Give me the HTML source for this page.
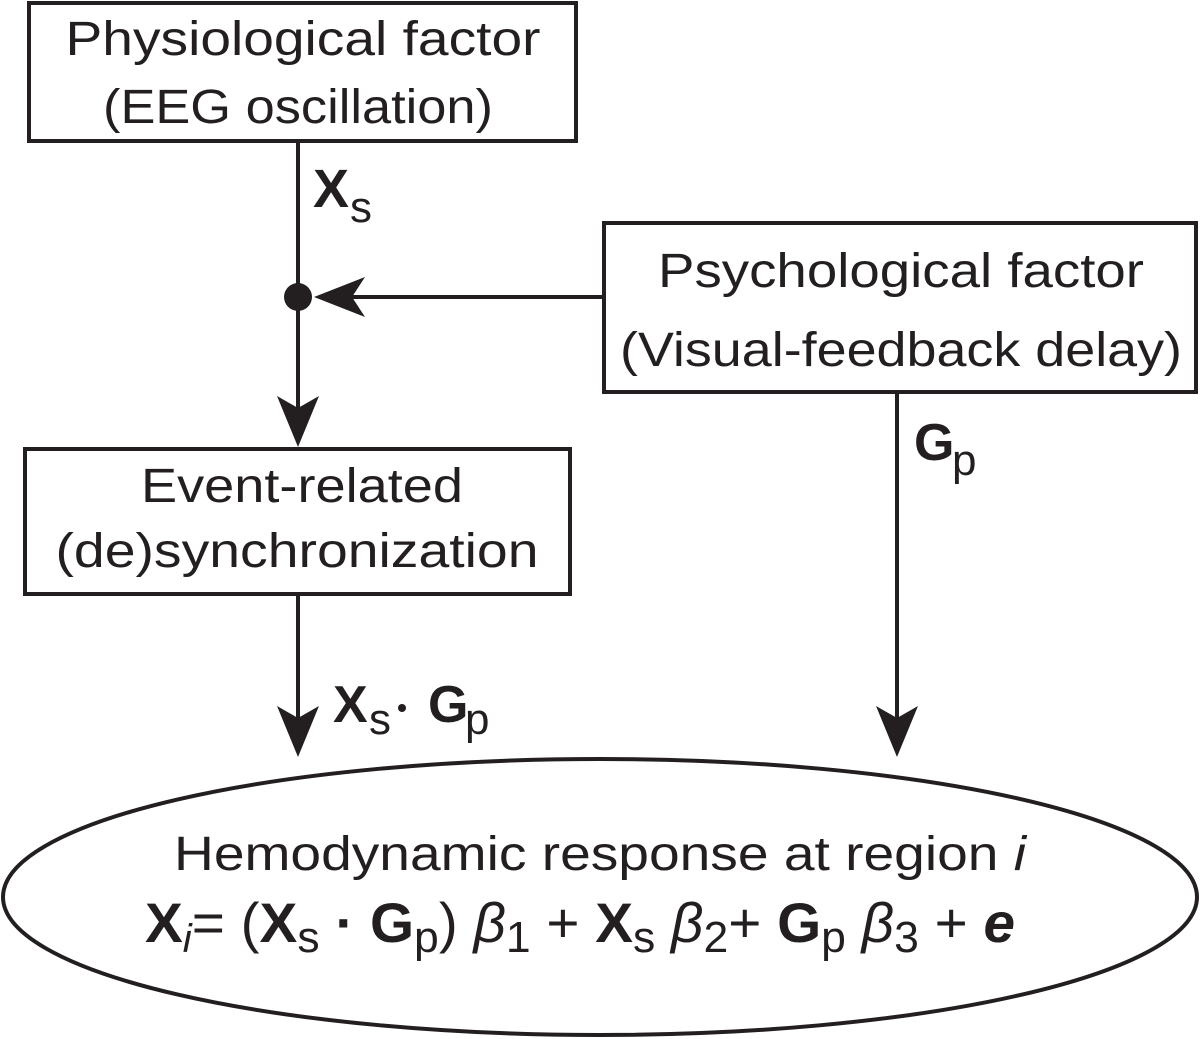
<!DOCTYPE html>
<html><head><meta charset="utf-8"><style>html,body{margin:0;padding:0;background:#fff}svg{display:block}text{font-family:"Liberation Sans",sans-serif;fill:#231f20}</style></head>
<body>
<svg width="1200" height="1039" viewBox="0 0 1200 1039" xmlns="http://www.w3.org/2000/svg">
<g stroke="#231f20" stroke-width="4" fill="none">
<rect x="29" y="3" width="547" height="138"/>
<rect x="604" y="223" width="592" height="169"/>
<rect x="25" y="449" width="545" height="145"/>
<ellipse cx="600" cy="897" rx="597" ry="138"/>
<line x1="298" y1="141" x2="298" y2="410"/>
<line x1="604" y1="297" x2="350" y2="297"/>
<line x1="298" y1="594" x2="298" y2="720"/>
<line x1="897" y1="392" x2="897" y2="720"/>
</g>
<g fill="#231f20">
<circle cx="298" cy="297" r="14"/>
<polygon points="314,297 365,277 352,297 365,317"/>
<polygon points="298,447 277,396 298,408 319,396"/>
<polygon points="298,757 277,706 298,718 319,706"/>
<polygon points="897,757 876,706 897,718 918,706"/>
<circle cx="402" cy="708" r="4"/>
</g>
<g font-size="48" text-anchor="middle">
<text x="303" y="55" textLength="475" lengthAdjust="spacingAndGlyphs">Physiological factor</text>
<text x="298" y="123" textLength="390" lengthAdjust="spacingAndGlyphs">(EEG oscillation)</text>
<text x="901" y="287" textLength="486" lengthAdjust="spacingAndGlyphs">Psychological factor</text>
<text x="901" y="366" textLength="562" lengthAdjust="spacingAndGlyphs">(Visual-feedback delay)</text>
<text x="302" y="502" textLength="322" lengthAdjust="spacingAndGlyphs">Event-related</text>
<text x="297" y="567" textLength="483" lengthAdjust="spacingAndGlyphs">(de)synchronization</text>
<text x="600" y="870" textLength="852" lengthAdjust="spacingAndGlyphs">Hemodynamic response at region <tspan font-style="italic">i</tspan></text>
</g>
<text x="313" y="207" font-size="54" font-weight="bold">X</text><text x="350" y="222" font-size="44">s</text>
<text x="914" y="460" font-size="52" font-weight="bold">G</text><text x="952" y="475" font-size="44">p</text>
<text x="333" y="722" font-size="52" font-weight="bold">X</text><text x="369" y="734" font-size="44">s</text>
<text x="428" y="722" font-size="52" font-weight="bold">G</text><text x="465" y="734" font-size="44">p</text>
<text x="145" y="942" font-size="56" textLength="870" lengthAdjust="spacingAndGlyphs"><tspan font-weight="bold">X</tspan><tspan font-style="italic" font-size="40" dy="10">i</tspan><tspan dy="-10">= (</tspan><tspan font-weight="bold">X</tspan><tspan font-size="44" dy="10">s</tspan><tspan dy="-10" font-weight="bold"> · G</tspan><tspan font-size="44" dy="10">p</tspan><tspan dy="-10">) </tspan><tspan font-style="italic">β</tspan><tspan font-size="44" dy="10">1</tspan><tspan dy="-10"> + </tspan><tspan font-weight="bold">X</tspan><tspan font-size="44" dy="10">s</tspan><tspan dy="-10" font-style="italic"> β</tspan><tspan font-size="44" dy="10">2</tspan><tspan dy="-10">+ </tspan><tspan font-weight="bold">G</tspan><tspan font-size="44" dy="10">p</tspan><tspan dy="-10" font-style="italic"> β</tspan><tspan font-size="44" dy="10">3</tspan><tspan dy="-10"> + </tspan><tspan font-weight="bold" font-style="italic">e</tspan></text>
</svg>
</body></html>
